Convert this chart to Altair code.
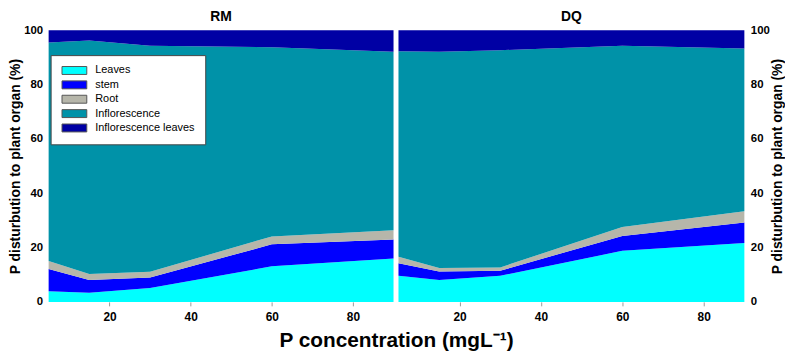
import altair as alt
import pandas as pd

conc = [5, 15, 30, 60, 90]
organs = ["Leaves", "stem", "Root", "Inflorescence", "Inflorescence leaves"]
organ_colors = ["#00FFFF", "#0000FF", "#B6B6AA", "#0092A8", "#0000A4"]

rm_leaves = [3.9, 3.4, 5.1, 13.1, 16.0]
rm_stem = [8.2, 4.7, 3.9, 8.1, 7.0]
rm_root = [3.0, 2.2, 2.1, 2.9, 3.4]
rm_infl = [80.4, 86.0, 83.2, 69.7, 65.7]
rm_infl_leaves = [4.5, 3.7, 5.7, 6.2, 7.9]

dq_leaves = [9.6, 8.1, 9.6, 18.8, 21.7]
dq_stem = [4.6, 3.1, 1.9, 5.5, 7.5]
dq_root = [2.4, 1.3, 1.2, 3.3, 4.2]
dq_infl = [75.7, 79.6, 80.0, 66.7, 59.9]
dq_infl_leaves = [7.7, 7.9, 7.3, 5.7, 6.7]

x_ticks = [20, 40, 60, 80]
y_ticks = [0, 20, 40, 60, 80, 100]

FONT = "Liberation Sans"


def long_df(series):
    rows = []
    for k, (name, vals) in enumerate(zip(organs, series)):
        for c, v in zip(conc, vals):
            rows.append({"conc": c, "organ": name, "ord": k, "value": v})
    return pd.DataFrame(rows)


rm_df = long_df([rm_leaves, rm_stem, rm_root, rm_infl, rm_infl_leaves])
dq_df = long_df([dq_leaves, dq_stem, dq_root, dq_infl, dq_infl_leaves])


def panel(df, title, y_orient, width, legend):
    y_axis = alt.Axis(
        orient=y_orient, values=y_ticks, title="P disturbution to plant organ (%)",
        titleAngle=270, titleBaseline="bottom" if y_orient == "left" else "top",
        titleFont=FONT, titleFontSize=14, titleFontWeight="bold",
        titleColor="black", titlePadding=1, grid=False, domain=False, ticks=False,
        labelFont=FONT, labelFontSize=11.5, labelFontWeight="bold", labelColor="black",
        labelPadding=6,
    )
    x_axis = alt.Axis(
        values=x_ticks, title=None, grid=False, domain=False, tickColor="#999999",
        tickSize=4, labelFont=FONT, labelFontSize=12, labelFontWeight="bold",
        labelColor="black", labelPadding=6,
    )
    return alt.Chart(
        df,
        title=alt.TitleParams(title, fontSize=14, font=FONT, fontWeight="bold",
                              offset=0, anchor="middle", color="black"),
    ).mark_area(interpolate="linear").encode(
        x=alt.X("conc:Q", scale=alt.Scale(domain=[5, 90], nice=False, zero=False), axis=x_axis),
        y=alt.Y("value:Q", stack="zero", scale=alt.Scale(domain=[0, 100], nice=False), axis=y_axis),
        color=alt.Color("organ:N", scale=alt.Scale(domain=organs, range=organ_colors), legend=legend),
        order=alt.Order("ord:Q", sort="ascending"),
    ).properties(width=width, height=274)


legend = alt.Legend(
    title=None, orient="none", legendX=2, legendY=25, fillColor="white",
    strokeColor="#444444", padding=10, symbolType="M-1,-1L5.25,-1L5.25,1L-1,1Z",
    symbolSize=64, symbolStrokeColor="#555555", symbolStrokeWidth=1, symbolOpacity=1,
    labelFont=FONT, labelFontSize=11, labelColor="black", labelOffset=24, rowPadding=1.5,
)

left = panel(rm_df, "RM", "left", 348, legend)
right = panel(dq_df, "DQ", "right", 349, None)

chart = alt.hconcat(left, right, spacing=5).resolve_scale(color="independent").properties(
    title=alt.TitleParams("P concentration (mgL⁻¹)", orient="bottom", anchor="middle",
                          fontSize=21, fontWeight="bold", font=FONT, offset=7, color="black"),
    padding={"left": 0, "top": 1, "right": 0, "bottom": 0},
).configure_view(stroke=None)

chart.save("out.html", embed_options={"renderer": "svg", "actions": False})
